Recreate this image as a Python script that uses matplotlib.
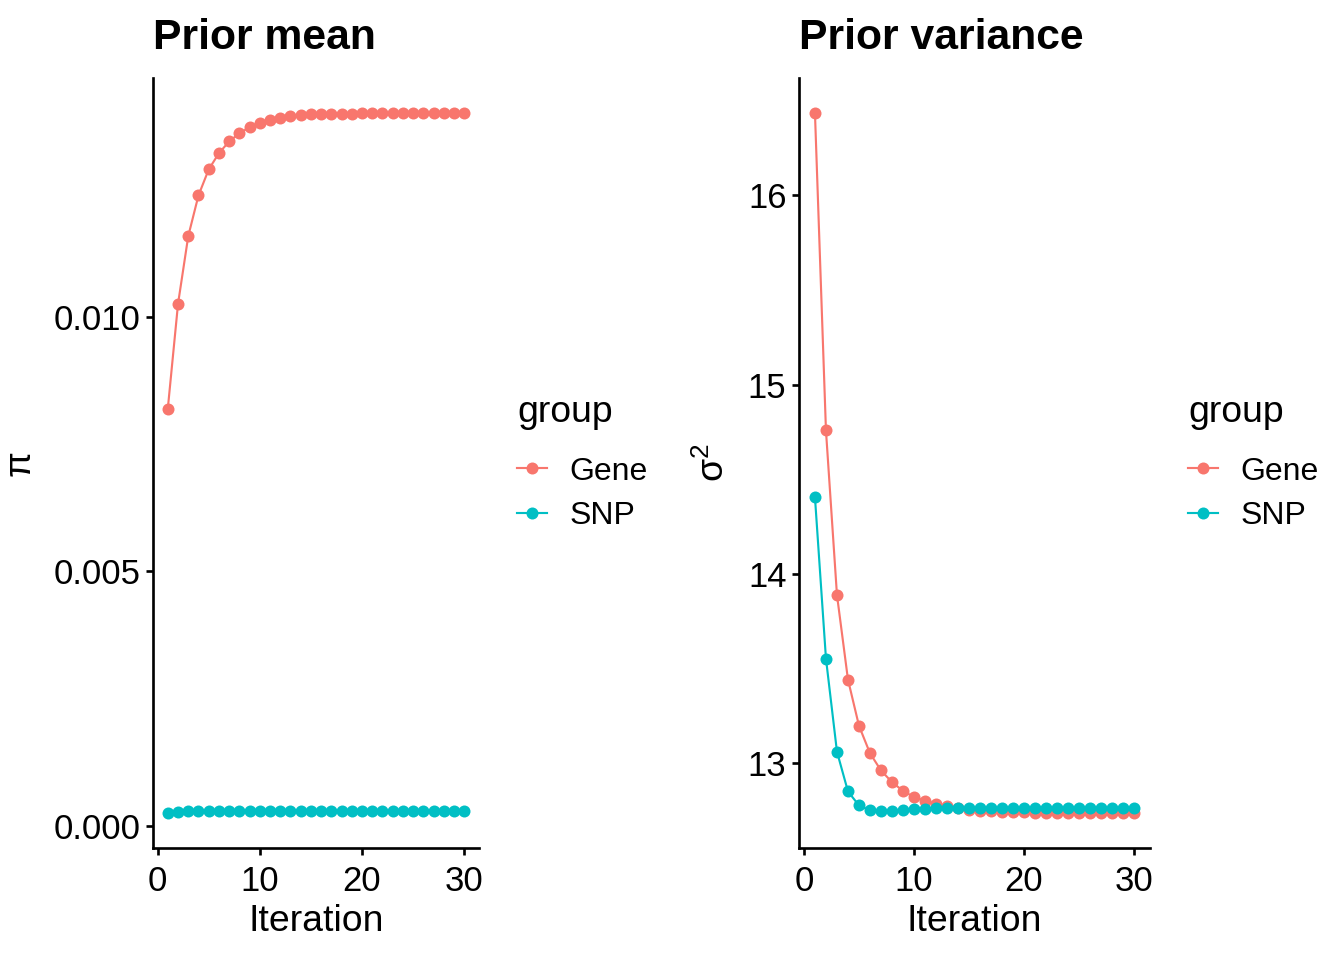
import matplotlib
matplotlib.use("Agg")
import matplotlib.pyplot as plt
from matplotlib.ticker import FormatStrFormatter

plt.rcParams['font.family'] = ['Liberation Sans', 'DejaVu Sans']
plt.rcParams['mathtext.fontset'] = 'custom'
plt.rcParams['mathtext.rm'] = 'Liberation Sans'
plt.rcParams['mathtext.it'] = 'Liberation Sans:italic'

iteration = list(range(1, 31))
groups = ["Gene", "SNP"]
colors = {"Gene": "#F8766D", "SNP": "#00BFC4"}

# prior mean (pi)
gene_pi = [0.00820, 0.01026, 0.01159, 0.01239, 0.01290, 0.01322, 0.01345, 0.01361,
           0.01373, 0.01382, 0.01388, 0.01392, 0.01396, 0.01398, 0.01399, 0.01399,
           0.01400, 0.01400, 0.01400, 0.01401, 0.01401, 0.01401, 0.01401, 0.01401,
           0.01401, 0.01401, 0.01401, 0.01401, 0.01401, 0.01401]
snp_pi = [0.00025, 0.00027, 0.00028, 0.00028] + [0.00029] * 26

# prior variance (sigma^2)
gene_sigma = [16.435, 14.758, 13.889, 13.442, 13.198, 13.053, 12.962, 12.900,
              12.854, 12.821, 12.802, 12.786, 12.775, 12.762, 12.754, 12.748,
              12.745, 12.743, 12.741, 12.740, 12.739, 12.739, 12.738, 12.738,
              12.738, 12.737, 12.737, 12.737, 12.737, 12.737]
snp_sigma = [14.405, 13.553, 13.061, 12.851, 12.777, 12.751, 12.746, 12.749,
             12.754, 12.758, 12.759, 12.761, 12.762] + [12.763] * 17

fig = plt.figure(figsize=(7, 5), dpi=192)
ax1 = fig.add_axes([153/1344, 112/960, 326/1344, 770/960])
ax2 = fig.add_axes([799/1344, 112/960, 351/1344, 770/960])

panels = [
    (ax1, {"Gene": gene_pi, "SNP": snp_pi}, "Prior mean", "\u03c0", "%.3f", [0, 0.005, 0.010]),
    (ax2, {"Gene": gene_sigma, "SNP": snp_sigma}, "Prior variance", "\u03c3$^2$", "%d", [13, 14, 15, 16]),
]

for ax, data, title, ylab, fmt, yt in panels:
    for g in groups:
        ax.plot(iteration, data[g], color=colors[g], lw=0.8, marker="o", ms=4.5,
                markeredgewidth=0, label=g)
    ax.set_xlim(-0.45, 31.45)
    ax.set_xticks([0, 10, 20, 30])
    ax.set_yticks(yt)
    ax.yaxis.set_major_formatter(FormatStrFormatter(fmt))
    for s in ["top", "right"]:
        ax.spines[s].set_visible(False)
    for s in ["left", "bottom"]:
        ax.spines[s].set_linewidth(1.0)
    ax.tick_params(length=2.7, width=1.0, labelsize=13, colors="black")
    ax.tick_params(axis="y", pad=2)
    ax.tick_params(axis="x", pad=3.5)
    ax.set_xlabel("Iteration", fontsize=14, labelpad=2.5)
    ax.set_ylabel(ylab, fontsize=14, labelpad=6)
    ax.set_title(title, loc="left", fontsize=16, fontweight="bold", pad=11)
    width_px = ax.get_position().width * 1344
    leg = ax.legend(title="group", loc="center left",
                    bbox_to_anchor=(1 + 22 / width_px, 0.5),
                    frameon=False, fontsize=12, title_fontsize=14, borderpad=0,
                    handlelength=0.95, handletextpad=0.7, labelspacing=0.45)
    leg._legend_box.align = "left"
    leg._legend_box.sep = 10

fig.savefig("out.png", dpi=192)
